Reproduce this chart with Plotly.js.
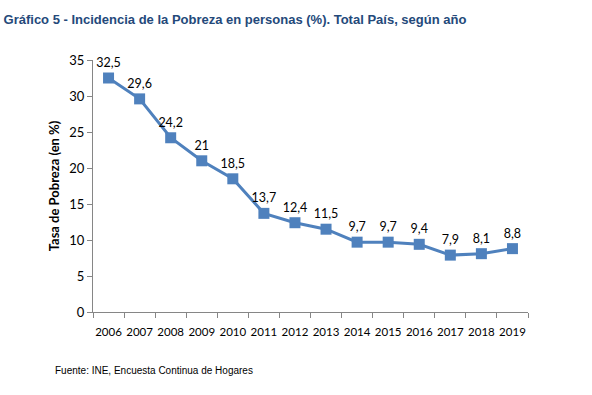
<!DOCTYPE html>
<html>
<head>
<meta charset="utf-8">
<script src="https://cdn.plot.ly/plotly-3.0.1.min.js"></script>
<style>html,body{margin:0;padding:0;background:#fff}#chart{width:592px;height:395px}</style>
</head>
<body>
<div id="chart"></div>
<script>
const years = ["2006","2007","2008","2009","2010","2011","2012","2013","2014","2015","2016","2017","2018","2019"];
const poverty = [32.5, 29.6, 24.2, 21, 18.5, 13.7, 12.4, 11.5, 9.7, 9.7, 9.4, 7.9, 8.1, 8.8];
const labels = ["32,5","29,6","24,2","21","18,5","13,7","12,4","11,5","9,7","9,7","9,4","7,9","8,1","8,8"];
const yTicks = [0,5,10,15,20,25,30,35];

const trace = {
  x: years, y: poverty, type: "scatter", mode: "lines+markers+text",
  text: labels, textposition: "top center",
  textfont: {family: "Lato, 'Open Sans', sans-serif", size: 12.5, color: "#000"},
  line: {color: "#4F81BD", width: 3},
  marker: {symbol: "square", size: 11, color: "#4F81BD"},
  cliponaxis: false, hoverinfo: "none"
};

const layout = {
  width: 592, height: 395,
  margin: {l: 93, r: 64, t: 60, b: 83},
  paper_bgcolor: "#fff", plot_bgcolor: "#fff",
  showlegend: false,
  title: {text: "<b>Gráfico 5 - Incidencia de la Pobreza en personas (%). Total País, según año</b>",
    font: {family: "Arial, 'Liberation Sans', sans-serif", size: 13, color: "#24497A"},
    xref: "container", x: 0.006, xanchor: "left", yref: "container", y: 0.952, yanchor: "middle"},
  xaxis: {type: "category", tickson: "boundaries", ticks: "outside", ticklen: 5, tickcolor: "#868686",
    showline: true, linecolor: "#868686", linewidth: 1, showgrid: false, zeroline: false,
    tickangle: 0, automargin: false, ticklabelstandoff: 9,
    tickfont: {family: "Lato, 'Open Sans', sans-serif", size: 11.5, color: "#000"},
    range: [-0.5, 13.5], fixedrange: true},
  yaxis: {range: [0, 35], tickvals: yTicks, ticktext: yTicks.map(String), ticks: "outside", ticklen: 5,
    tickcolor: "#868686", showline: true, linecolor: "#868686", linewidth: 1, showgrid: false, zeroline: false,
    automargin: false,
    tickfont: {family: "Lato, 'Open Sans', sans-serif", size: 13, color: "#000"},
    title: {text: "<b>Tasa de Pobreza (en %)</b>", font: {family: "Lato, 'Open Sans', sans-serif", size: 13, color: "#000"}, standoff: 6},
    fixedrange: true},
  annotations: [{text: "Fuente: INE, Encuesta Continua de Hogares", xref: "paper", yref: "paper",
    x: -0.093, y: -0.232, xanchor: "left", yanchor: "middle", showarrow: false,
    font: {family: "Arial, 'Liberation Sans', sans-serif", size: 10, color: "#000"}}]
};

Plotly.newPlot("chart", [trace], layout, {displayModeBar: false, staticPlot: true});
</script>
</body>
</html>
